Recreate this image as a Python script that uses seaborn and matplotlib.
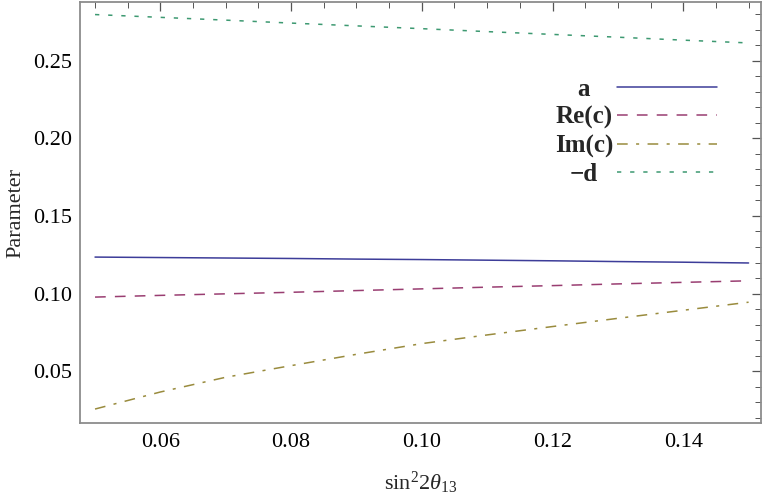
"""
Parameter values versus sin^2(2 theta_13), Mathematica-style frame plot.
"""

import matplotlib
matplotlib.use('Agg')
import matplotlib.pyplot as plt
from matplotlib.ticker import MultipleLocator, FormatStrFormatter
import seaborn as sns
import pandas as pd

# Data
sin2_2theta13 = [0.05, 0.06, 0.07, 0.08, 0.09, 0.10, 0.11, 0.12, 0.13, 0.14, 0.15]
param_a = [0.1235, 0.1232, 0.1229, 0.1226, 0.1222, 0.1219, 0.1215, 0.1211, 0.1206, 0.1202, 0.1197]
param_re_c = [0.0977, 0.0988, 0.0998, 0.1008, 0.1019, 0.1030, 0.1041, 0.1051, 0.1062, 0.1072, 0.1082]
param_im_c = [0.0255, 0.0365, 0.0460, 0.0535, 0.0608, 0.0677, 0.0733, 0.0787, 0.0840, 0.0892, 0.0944]
param_minus_d = [0.2799, 0.2781, 0.2763, 0.2744, 0.2726, 0.2708, 0.2689, 0.2671, 0.2653, 0.2634, 0.2616]

series_names = ['a', 'Re(c)', 'Im(c)', '\u2212d']
series_values = [param_a, param_re_c, param_im_c, param_minus_d]

# Mathematica default plot colours
colors = ['#3d3d99', '#993d71', '#998b3d', '#3d9971']
dash_styles = ['', (7, 6), (7, 5.5, 2, 5.5), (2.8, 5.8)]

# Long-form table for seaborn
rows = []
for name, values in zip(series_names, series_values):
    for x, y in zip(sin2_2theta13, values):
        rows.append({'x': x, 'value': y, 'series': name})
df = pd.DataFrame(rows)

sns.set_style('white')
plt.rcParams['font.family'] = ['Liberation Serif', 'DejaVu Serif']
plt.rcParams['mathtext.fontset'] = 'custom'
plt.rcParams['mathtext.rm'] = 'Liberation Serif'
plt.rcParams['mathtext.it'] = 'Liberation Serif:italic'

W, H = 763, 499
fig = plt.figure(figsize=(W / 100, H / 100), dpi=100)
ax = fig.add_axes([80 / W, 1 - 423 / H, (761 - 80) / W, (423 - 2) / H])

sns.lineplot(data=df, x='x', y='value', hue='series', style='series',
             hue_order=series_names, style_order=series_names,
             palette=dict(zip(series_names, colors)),
             dashes=dict(zip(series_names, dash_styles)),
             linewidth=1.1, legend=False, ax=ax)

ax.set_xlim(0.0477, 0.1519)
ax.set_ylim(0.0165, 0.288)

# Frame and ticks like Mathematica
frame_color = '#8c8c8c'
for spine in ax.spines.values():
    spine.set_visible(True)
    spine.set_color(frame_color)
    spine.set_linewidth(1.3)

ax.xaxis.set_major_locator(MultipleLocator(0.02))
ax.xaxis.set_minor_locator(MultipleLocator(0.005))
ax.yaxis.set_major_locator(MultipleLocator(0.05))
ax.yaxis.set_minor_locator(MultipleLocator(0.01))
ax.xaxis.set_major_formatter(FormatStrFormatter('%.2f'))
ax.yaxis.set_major_formatter(FormatStrFormatter('%.2f'))

ax.tick_params(which='both', direction='in', top=True, right=True,
               color='#555555', labelsize=16, labelcolor='black')
ax.tick_params(which='major', length=6.5, width=0.9)
ax.tick_params(which='minor', length=4, width=0.7)
ax.tick_params(axis='y', pad=5.5)
ax.tick_params(axis='x', pad=7)

ax.set_xlabel(r'$\mathrm{sin}^2 2\theta_{13}$', fontsize=16, labelpad=13)
ax.set_ylabel('Parameter', fontsize=16, labelpad=6)

# Legend: labels to the left of the line samples, no frame
leg = ax.legend(ax.get_lines(), series_names,
                loc='upper right', bbox_to_anchor=(717 / W, 1 - 78 / H),
                bbox_transform=fig.transFigure, frameon=False,
                markerfirst=False, handlelength=4.0, handletextpad=0.16,
                labelspacing=0.2, borderpad=0, borderaxespad=0,
                prop={'family': 'Liberation Serif', 'weight': 'bold', 'size': 18})

# Mathematica centres the label column; shift each label left by half its slack
fig.canvas.draw()
renderer = fig.canvas.get_renderer()
texts = leg.get_texts()
widths = [t.get_window_extent(renderer).width for t in texts]
max_w = max(widths)
for t, w in zip(texts, widths):
    t.set_position((-(max_w - w) / 2, 0))

fig.savefig('out.png', dpi=100)
